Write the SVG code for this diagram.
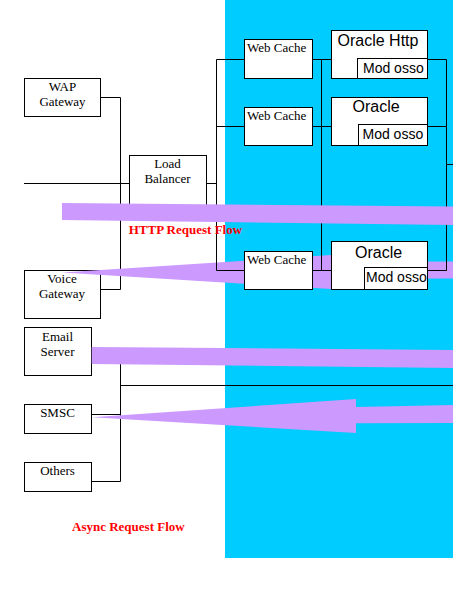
<svg xmlns="http://www.w3.org/2000/svg" width="453" height="600" viewBox="0 0 453 600">
<style>
.box{fill:#fff;stroke:#000;stroke-width:1}
.ln{fill:none;stroke:#000;stroke-width:1}
.flow{fill:#CC99FF;stroke:none}
.st{font-family:"Liberation Serif","Times New Roman",serif;font-size:13px;fill:#000}
.ss{font-family:"Liberation Sans",Arial,sans-serif;fill:#000}
.lbl{font-family:"Liberation Serif","Times New Roman",serif;font-size:13px;font-weight:bold;fill:#FF0000}
</style>
<rect x="0" y="0" width="453" height="600" fill="#fff"/>
<rect x="225" y="0" width="228" height="558" fill="#00CCFF"/>

<g id="left-connectors">
<path class="ln" d="M100.5 97.5H120.5V289.5H100.5"/>
<path class="ln" d="M91.5 355.5H120.5V481.5H91.5M91.5 414.5H120.5M120.5 385.5H453"/>
<path class="ln" d="M24 183.5H129.5"/>
</g>

<g id="wap"><rect class="box" x="24.5" y="78.5" width="76" height="38"/>
<text class="st" x="62.5" y="91" text-anchor="middle">WAP</text>
<text class="st" x="62.5" y="105.5" text-anchor="middle">Gateway</text></g>

<g id="voice"><rect class="box" x="24.5" y="270.5" width="76" height="48"/>
<text class="st" x="62" y="283" text-anchor="middle">Voice</text>
<text class="st" x="62" y="298" text-anchor="middle">Gateway</text></g>

<g id="email"><rect class="box" x="24.5" y="327.5" width="67" height="48"/>
<text class="st" x="57.5" y="340.5" text-anchor="middle">Email</text>
<text class="st" x="57.5" y="355.5" text-anchor="middle">Server</text></g>

<g id="smsc"><rect class="box" x="24.5" y="404.5" width="67" height="29"/>
<text class="st" x="57.5" y="416.5" text-anchor="middle">SMSC</text></g>

<g id="others"><rect class="box" x="24.5" y="462.5" width="67" height="29"/>
<text class="st" x="57.5" y="475" text-anchor="middle">Others</text></g>

<polygon id="voice-flow" class="flow" points="62,272.5 331,255 331,262 453,261.5 453,278.5 331,279 331,289"/>

<g id="connectors">
<path class="ln" d="M206.5 183.5H216.5M216.5 59.5V270.5M216.5 59.5H244.5M216.5 126.5H244.5M216.5 270.5H244.5"/>
<path class="ln" d="M312.5 59.5H331.5M321.5 59.5V270.5M312.5 126.5H331.5M312.5 270.5H331.5"/>
<path class="ln" d="M427.5 59.5H446.5V270.5H427.5M427.5 126.5H446.5M446.5 164.5H453"/>
</g>

<g id="lb"><rect class="box" x="129.5" y="155.5" width="77" height="55"/>
<text class="st" x="167.5" y="168" text-anchor="middle">Load</text>
<text class="st" x="167.5" y="183" text-anchor="middle">Balancer</text></g>

<g id="wc1"><rect class="box" x="244.5" y="39.5" width="68" height="39"/>
<text class="st" x="247" y="51.5">Web Cache</text></g>
<g id="wc2"><rect class="box" x="244.5" y="107.5" width="68" height="38"/>
<text class="st" x="247" y="119.5">Web Cache</text></g>
<g id="wc3"><rect class="box" x="244.5" y="251.5" width="68" height="38"/>
<text class="st" x="247" y="263.5">Web Cache</text></g>

<g id="ohs1"><rect class="box" x="331.5" y="30.5" width="96" height="48"/>
<text class="ss" x="337.5" y="45.5" font-size="16">Oracle Http</text>
<rect class="box" x="357.5" y="58.5" width="70" height="20"/>
<text class="ss" x="363" y="72.5" font-size="14">Mod osso</text></g>

<g id="ohs2"><rect class="box" x="331.5" y="97.5" width="96" height="48"/>
<text class="ss" x="352.5" y="111.5" font-size="16">Oracle</text>
<rect class="box" x="358.5" y="124.5" width="69" height="21"/>
<text class="ss" x="362.5" y="139" font-size="14">Mod osso</text></g>

<g id="ohs3"><rect class="box" x="331.5" y="241.5" width="96" height="48"/>
<text class="ss" x="355" y="257.5" font-size="16">Oracle</text>
<rect class="box" x="364.5" y="267.5" width="63" height="22"/>
<text class="ss" x="366" y="282" font-size="14">Mod osso</text></g>

<g id="flows">
<polygon class="flow" points="62,203 453,206.5 453,225 62,220"/>
<polygon class="flow" points="91.7,347 453,350 453,368 91.7,364"/>
<polygon class="flow" points="92,417.3 356,399 356,407 453,405 453,423 356,423.3 356,433"/>
</g>

<text class="lbl" x="128.7" y="233.5">HTTP Request Flow</text>
<text class="lbl" x="72" y="530.5">Async Request Flow</text>
</svg>
